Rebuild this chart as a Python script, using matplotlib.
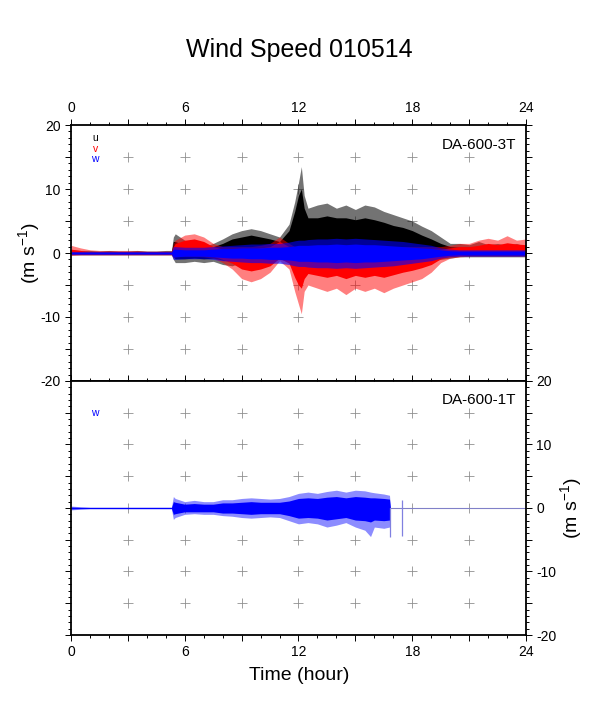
import numpy as np
import matplotlib
matplotlib.use('Agg')
import matplotlib.pyplot as plt
from matplotlib.ticker import MultipleLocator, FuncFormatter

plt.rcParams['font.family'] = ['Liberation Sans', 'DejaVu Sans']

# ---- data (envelopes of the 1-day wind records) ----
# time grid (hour) for the upper panel, DA-600-3T
t_top = [0, 0.5, 1, 1.5, 2, 2.5, 3, 3.5, 4, 4.5, 5, 5.3,
         5.4, 5.5, 6, 6.5, 7, 7.5, 8, 8.5, 9, 9.5, 10, 10.5, 11, 11.5,
         11.8, 12.0, 12.15, 12.3, 12.5,
         13, 13.5, 14, 14.5, 15, 15.5, 16, 16.5, 17, 17.5, 18, 18.5, 19, 19.5,
         20, 20.5, 21, 21.5, 22, 22.5, 23, 23.5, 24]

# u component: peak and core envelopes
u_hi = [0.5, 0.4, 0.4, 0.3, 0.4, 0.3, 0.3, 0.4, 0.3, 0.3, 0.4, 0.4,
        2.5, 3.0, 2.0, 1.2, 1.0, 1.5, 2.2, 3.0, 3.5, 3.8, 3.5, 3.0, 2.5, 4.5,
        8.0, 11.0, 13.5, 9.0, 7.0,
        7.5, 7.8, 7.0, 7.5, 6.8, 7.5, 7.2, 6.5, 6.0, 5.5, 5.0, 4.2, 3.5, 2.5,
        1.5, 1.5, 1.3, 1.8, 1.3, 1.5, 1.2, 1.5, 1.0]
u_hi_core = [0.2, 0.2, 0.2, 0.2, 0.2, 0.2, 0.2, 0.2, 0.2, 0.2, 0.2, 0.2,
             1.8, 1.8, 1.2, 0.9, 0.7, 1.0, 1.5, 2.2, 2.5, 2.8, 2.5, 2.2, 1.8, 3.5,
             6.5, 9.0, 10.0, 7.0, 5.5,
             5.5, 5.8, 5.5, 5.5, 5.2, 5.5, 5.2, 4.8, 4.3, 4.0, 3.5, 2.8, 2.2, 1.5,
             1.0, 0.9, 0.9, 1.0, 0.9, 0.9, 0.8, 0.9, 0.7]
u_lo = [-0.3, -0.3, -0.3, -0.3, -0.3, -0.3, -0.3, -0.3, -0.3, -0.3, -0.3, -0.3,
        -1.0, -1.5, -1.5, -1.3, -1.5, -1.3, -1.8, -2.0, -1.5, -1.2, -1.2, -1.0, -1.0, -1.2,
        -1.5, -1.5, -1.5, -1.5, -1.4,
        -1.4, -1.4, -1.4, -1.4, -1.4, -1.4, -1.4, -1.4, -1.3, -1.3, -1.3, -1.2, -1.2, -1.0,
        -0.8, -0.6, -0.6, -0.6, -0.6, -0.6, -0.6, -0.6, -0.6]
u_lo_core = [-0.15, -0.15, -0.15, -0.15, -0.15, -0.15, -0.15, -0.15, -0.15, -0.15, -0.15, -0.15,
             -0.6, -0.9, -0.9, -0.8, -0.9, -0.8, -1.1, -1.2, -0.9, -0.7, -0.7, -0.6, -0.6, -0.7,
             -0.9, -0.9, -0.9, -0.9, -0.9,
             -0.9, -0.9, -0.9, -0.9, -0.9, -0.9, -0.9, -0.9, -0.8, -0.8, -0.8, -0.8, -0.8, -0.6,
             -0.5, -0.4, -0.4, -0.4, -0.4, -0.4, -0.4, -0.4, -0.4]

# v component
v_hi = [1.2, 0.8, 0.5, 0.4, 0.4, 0.4, 0.4, 0.4, 0.3, 0.3, 0.3, 0.3,
        1.5, 2.0, 2.8, 3.0, 2.5, 1.5, 1.0, 1.0, 1.0, 1.0, 1.2, 1.5, 2.5, 1.5,
        1.0, 1.0, 1.0, 1.0, 1.0,
        1.0, 1.0, 1.0, 1.0, 1.0, 1.0, 1.0, 1.0, 1.0, 1.0, 1.0, 1.0, 1.0, 1.0,
        1.2, 1.5, 1.5, 2.0, 2.3, 2.0, 2.7, 2.0, 2.2]
v_hi_core = [0.6, 0.4, 0.2, 0.2, 0.2, 0.2, 0.2, 0.2, 0.2, 0.2, 0.2, 0.2,
             1.0, 1.5, 2.0, 2.2, 1.8, 1.0, 0.6, 0.6, 0.6, 0.6, 0.8, 1.0, 1.8, 1.0,
             0.6, 0.6, 0.6, 0.6, 0.6,
             0.6, 0.6, 0.6, 0.6, 0.6, 0.6, 0.6, 0.6, 0.6, 0.6, 0.6, 0.6, 0.6, 0.6,
             0.8, 1.0, 1.0, 1.2, 1.5, 1.3, 1.6, 1.4, 1.3]
v_lo = [-0.4, -0.3, -0.3, -0.3, -0.3, -0.3, -0.3, -0.3, -0.3, -0.3, -0.3, -0.3,
        -0.8, -0.6, -0.5, -0.5, -0.6, -0.8, -1.5, -2.5, -4.0, -4.5, -4.0, -3.0, -1.2, -2.5,
        -6.0, -8.0, -9.5, -6.0, -5.0,
        -5.5, -6.0, -5.5, -6.5, -5.5, -6.0, -5.5, -6.2, -5.5, -5.0, -4.5, -4.0, -3.0, -1.5,
        -0.8, -0.6, -0.5, -0.5, -0.5, -0.5, -0.5, -0.5, -0.5]
v_lo_core = [-0.2, -0.2, -0.2, -0.2, -0.2, -0.2, -0.2, -0.2, -0.2, -0.2, -0.2, -0.2,
             -0.4, -0.4, -0.3, -0.3, -0.4, -0.5, -1.0, -1.6, -2.5, -2.8, -2.5, -2.0, -0.8, -1.6,
             -3.8, -5.0, -5.5, -4.0, -3.2,
             -3.5, -3.8, -3.5, -4.0, -3.5, -3.8, -3.5, -3.8, -3.4, -3.0, -2.7, -2.3, -1.8, -0.9,
             -0.5, -0.4, -0.3, -0.3, -0.3, -0.3, -0.3, -0.3, -0.3]

# w component (upper panel)
w_hi = [0.25, 0.25, 0.25, 0.25, 0.25, 0.25, 0.25, 0.25, 0.25, 0.25, 0.25, 0.25,
        1.0, 1.0, 0.9, 0.9, 0.9, 1.0, 1.1, 1.2, 1.3, 1.4, 1.4, 1.5, 1.5, 1.7,
        1.9, 2.0, 2.0, 2.0, 2.1,
        2.2, 2.2, 2.3, 2.2, 2.3, 2.2, 2.1, 2.0, 1.9, 1.8, 1.6, 1.4, 1.2, 0.8,
        0.6, 0.5, 0.5, 0.5, 0.5, 0.5, 0.5, 0.5, 0.5]
w_hi_core = [0.12, 0.12, 0.12, 0.12, 0.12, 0.12, 0.12, 0.12, 0.12, 0.12, 0.12, 0.12,
             0.6, 0.6, 0.5, 0.5, 0.5, 0.6, 0.7, 0.7, 0.8, 0.8, 0.8, 0.9, 0.9, 1.0,
             1.1, 1.2, 1.2, 1.2, 1.2,
             1.3, 1.3, 1.4, 1.3, 1.4, 1.3, 1.3, 1.2, 1.1, 1.0, 0.9, 0.8, 0.7, 0.5,
             0.35, 0.3, 0.3, 0.3, 0.3, 0.3, 0.3, 0.3, 0.3]
w_lo = [-0.25, -0.25, -0.25, -0.25, -0.25, -0.25, -0.25, -0.25, -0.25, -0.25, -0.25, -0.25,
        -1.0, -1.0, -0.9, -0.9, -0.9, -1.0, -1.2, -1.3, -1.4, -1.5, -1.5, -1.6, -1.6, -1.8,
        -2.0, -2.1, -2.1, -2.1, -2.2,
        -2.3, -2.3, -2.4, -2.3, -2.4, -2.3, -2.2, -2.1, -2.0, -1.8, -1.6, -1.4, -1.2, -0.8,
        -0.6, -0.5, -0.5, -0.5, -0.5, -0.5, -0.5, -0.5, -0.5]
w_lo_core = [-0.12, -0.12, -0.12, -0.12, -0.12, -0.12, -0.12, -0.12, -0.12, -0.12, -0.12, -0.12,
             -0.6, -0.6, -0.5, -0.5, -0.5, -0.6, -0.7, -0.8, -0.8, -0.9, -0.9, -1.0, -1.0, -1.1,
             -1.2, -1.3, -1.3, -1.3, -1.3,
             -1.4, -1.4, -1.5, -1.4, -1.5, -1.4, -1.4, -1.3, -1.2, -1.1, -1.0, -0.9, -0.7, -0.5,
             -0.35, -0.3, -0.3, -0.3, -0.3, -0.3, -0.3, -0.3, -0.3]

# lower panel, DA-600-1T: only w, record stops near 16.85 h
t_bot = [0, 0.5, 1, 1.5, 2, 2.5, 3, 3.5, 4, 4.5, 5, 5.3,
         5.4, 5.5, 6, 6.5, 7, 7.5, 8, 8.5, 9, 9.5, 10, 10.5, 11, 11.5,
         12, 12.5, 13, 13.5, 14, 14.5, 15, 15.5, 15.8, 16, 16.5, 16.8, 16.85]
w1_hi = [0.3, 0.2, 0.15, 0.15, 0.15, 0.15, 0.15, 0.15, 0.15, 0.15, 0.15, 0.15,
         1.8, 1.5, 1.0, 1.2, 1.0, 1.0, 1.3, 1.3, 1.5, 1.6, 1.5, 1.4, 1.5, 1.8,
         2.3, 2.5, 2.3, 2.6, 2.8, 2.5, 2.8, 2.7, 2.5, 2.4, 2.2, 2.0, 0.0]
w1_hi_core = [0.15, 0.1, 0.08, 0.08, 0.08, 0.08, 0.08, 0.08, 0.08, 0.08, 0.08, 0.08,
              1.0, 0.9, 0.6, 0.7, 0.6, 0.6, 0.8, 0.8, 0.9, 1.0, 0.9, 0.9, 0.9, 1.1,
              1.5, 1.6, 1.5, 1.7, 1.8, 1.6, 1.8, 1.7, 1.6, 1.6, 1.5, 1.4, 0.0]
w1_lo = [-0.3, -0.2, -0.15, -0.15, -0.15, -0.15, -0.15, -0.15, -0.15, -0.15, -0.15, -0.15,
         -1.8, -1.5, -1.0, -0.9, -1.0, -1.0, -1.2, -1.3, -1.5, -1.6, -1.5, -1.4, -1.5, -2.0,
         -2.5, -2.3, -2.5, -3.0, -2.7, -2.3, -3.0, -3.5, -4.5, -3.0, -3.2, -3.0, 0.0]
w1_lo_core = [-0.15, -0.1, -0.08, -0.08, -0.08, -0.08, -0.08, -0.08, -0.08, -0.08, -0.08, -0.08,
              -1.0, -0.9, -0.6, -0.6, -0.6, -0.6, -0.8, -0.8, -0.9, -1.0, -0.9, -0.9, -0.9, -1.2,
              -1.6, -1.5, -1.6, -1.9, -1.7, -1.5, -1.9, -2.0, -2.2, -1.9, -2.0, -1.9, 0.0]
# isolated spikes and the flat tail after the record ends
spike_t = [16.85, 17.45]
spike_top = [0.0, 1.2]
spike_bot = [-4.5, -4.4]
tail_t = [16.85, 24]
tail_w = [0.0, 0.0]

# ---- figure ----
fig = plt.figure(figsize=(5.98, 7.08), dpi=100)
ax1 = fig.add_axes([0.1187, 0.4619, 0.7609, 0.3615])
ax2 = fig.add_axes([0.1187, 0.1031, 0.7609, 0.3588])

# upper panel: u under v under w
ax1.fill_between(t_top, u_lo, u_hi, color='black', alpha=0.55, lw=0)
ax1.fill_between(t_top, u_lo_core, u_hi_core, color='black', lw=0)
ax1.fill_between(t_top, v_lo, v_hi, color='#ff0000', alpha=0.5, lw=0)
ax1.fill_between(t_top, v_lo_core, v_hi_core, color='#ff0000', lw=0)
ax1.fill_between(t_top, w_lo, w_hi, color='#0000ff', alpha=0.6, lw=0)
ax1.fill_between(t_top, w_lo_core, w_hi_core, color='#0000ff', lw=0)

# lower panel
ax2.plot(tail_t, tail_w, color='#8080c8', lw=0.8)
ax2.vlines(spike_t, spike_bot, spike_top, color='#8080e0', lw=0.9)
ax2.fill_between(t_bot, w1_lo, w1_hi, color='#0000ff', alpha=0.45, lw=0)
ax2.fill_between(t_bot, w1_lo_core, w1_hi_core, color='#0000ff', lw=0)

# grid crosses every 3 h and 5 m/s
gx, gy = np.meshgrid(np.arange(3, 24, 3), np.arange(-15, 20, 5))
for ax in (ax1, ax2):
    ax.plot(gx.ravel(), gy.ravel(), '+', color='#909090', ms=7, mew=0.6, zorder=0)
    ax.set_xlim(0, 24)
    ax.set_ylim(-20, 20)
    ax.xaxis.set_major_locator(MultipleLocator(3))
    ax.xaxis.set_minor_locator(MultipleLocator(1))
    ax.yaxis.set_major_locator(MultipleLocator(5))
    ax.yaxis.set_minor_locator(MultipleLocator(1))
    ax.xaxis.set_major_formatter(FuncFormatter(lambda v, p: f'{v:.0f}' if v % 6 == 0 else ''))
    ax.yaxis.set_major_formatter(FuncFormatter(lambda v, p: f'{v:.0f}' if v % 10 == 0 else ''))
    ax.tick_params(which='both', direction='out', top=True, bottom=True, left=True, right=True,
                   labelsize=10, width=0.7, pad=3)
    ax.tick_params(which='major', length=4.5)
    ax.tick_params(which='minor', length=2.2)
    for s in ax.spines.values():
        s.set_linewidth(1.3)

ax1.tick_params(labeltop=True, labelbottom=False, labelleft=True, labelright=False)
ax2.tick_params(labeltop=False, labelbottom=True, labelleft=False, labelright=True)

# labels inside the panels
ax1.text(0.053, 0.948, 'u', color='black', fontsize=7.5, transform=ax1.transAxes, ha='center', va='center')
ax1.text(0.053, 0.907, 'v', color='#ff0000', fontsize=7.5, transform=ax1.transAxes, ha='center', va='center')
ax1.text(0.053, 0.866, 'w', color='#0000ff', fontsize=7.5, transform=ax1.transAxes, ha='center', va='center')
ax2.text(0.053, 0.874, 'w', color='#0000ff', fontsize=7.5, transform=ax2.transAxes, ha='center', va='center')
ax1.text(0.978, 0.922, 'DA-600-3T', fontsize=11, transform=ax1.transAxes, ha='right', va='center')
ax2.text(0.978, 0.925, 'DA-600-1T', fontsize=11, transform=ax2.transAxes, ha='right', va='center')

fig.text(0.0502, 0.6427, '(m s$^{\\mathregular{-1}}$)', rotation=90, fontsize=14, ha='center', va='center')
fig.text(0.9565, 0.2825, '(m s$^{\\mathregular{-1}}$)', rotation=90, fontsize=14, ha='center', va='center')
fig.text(0.5, 0.929, 'Wind Speed 010514', fontsize=18, ha='center', va='center')
fig.text(0.5, 0.0466, 'Time (hour)', fontsize=14, ha='center', va='center')

fig.savefig('out.png', dpi=100)
